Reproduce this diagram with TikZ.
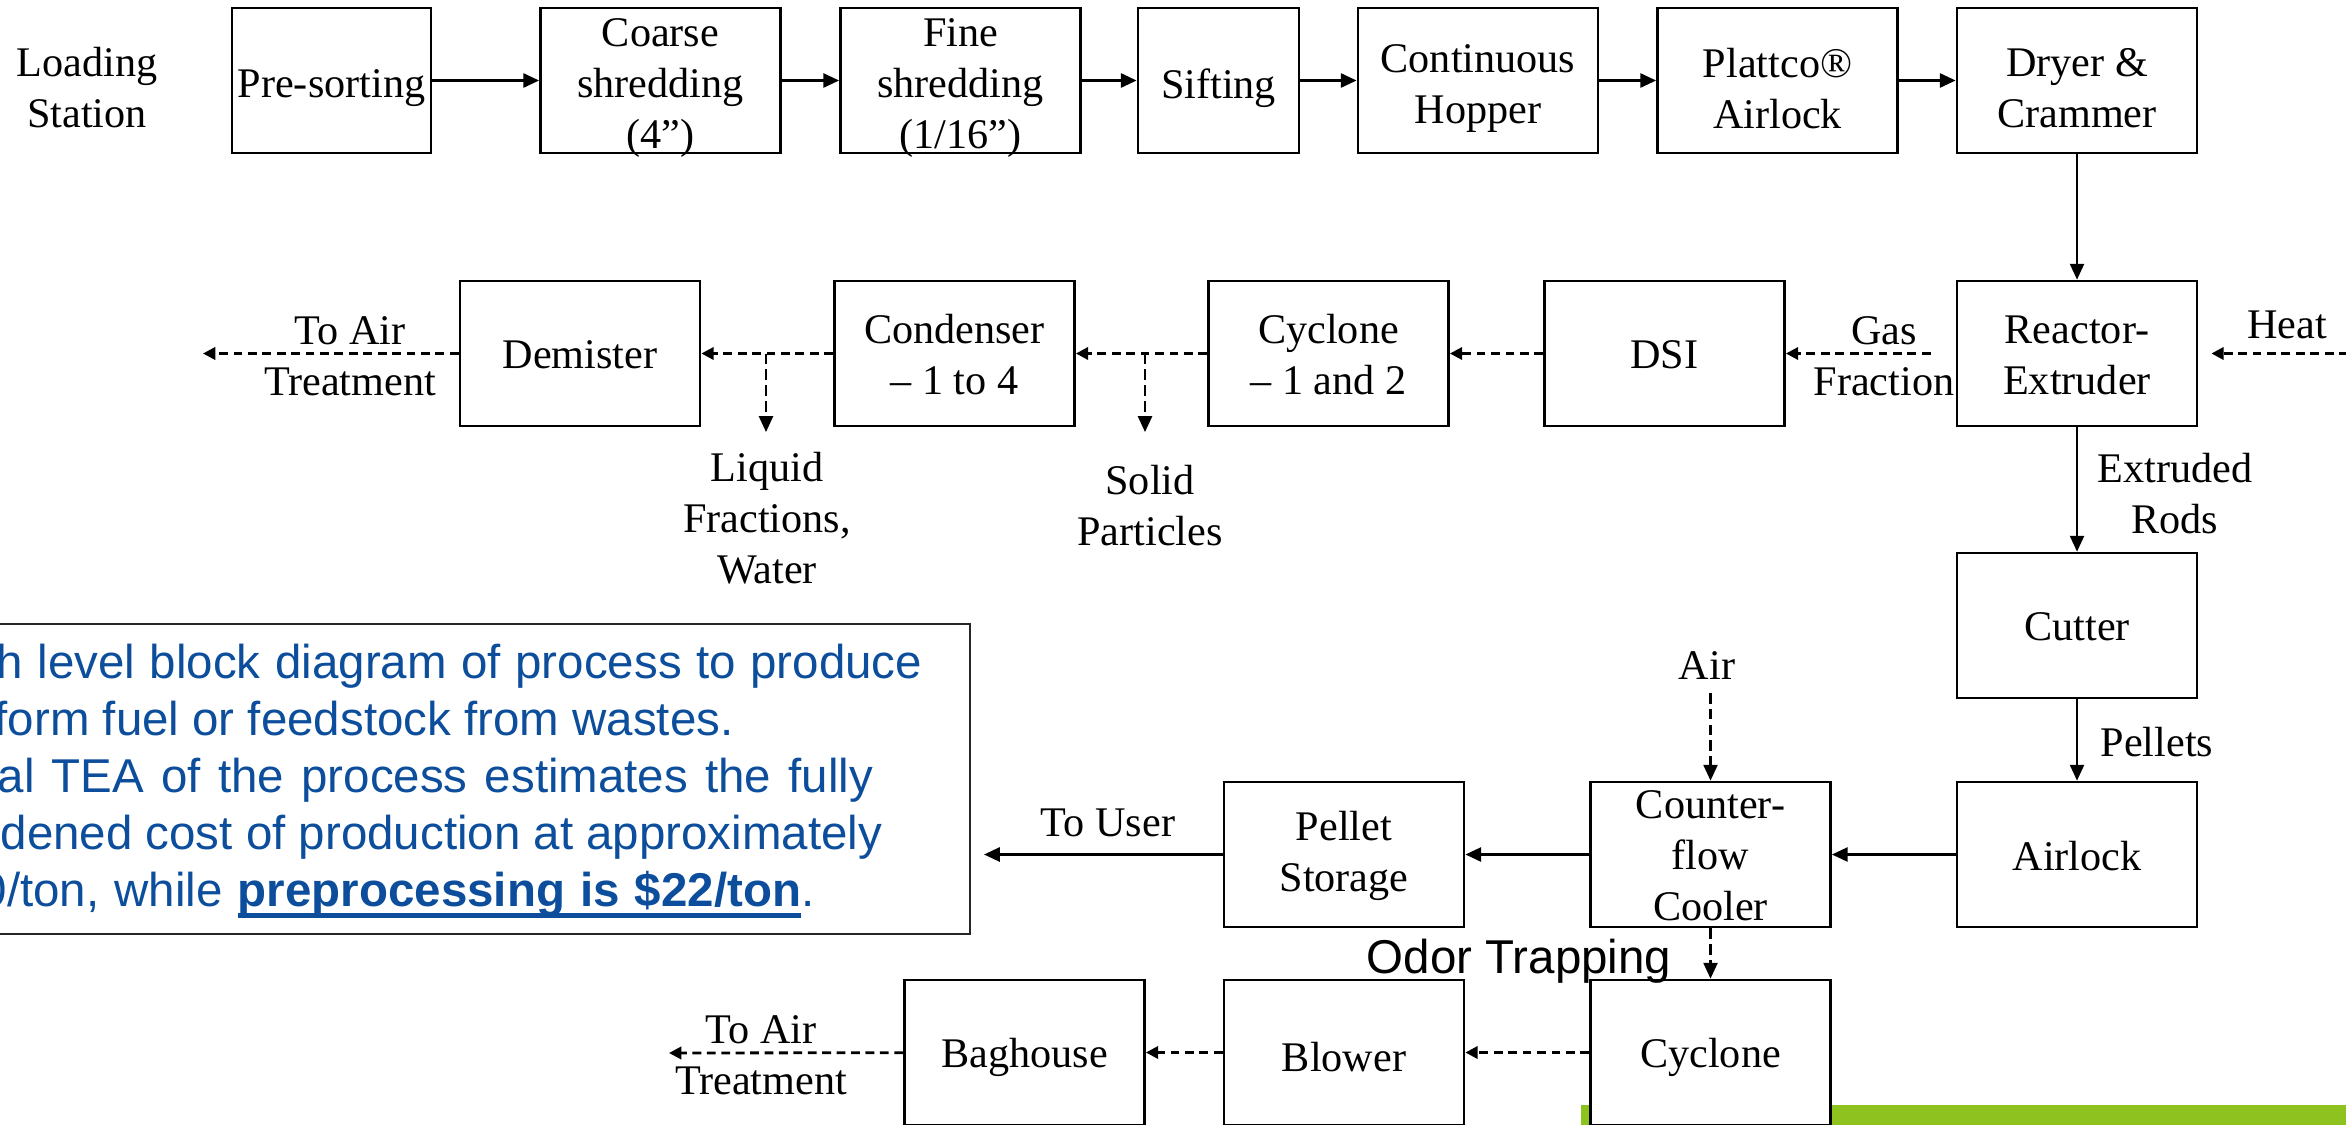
\documentclass[tikz,border=0pt]{standalone}
\usepackage{fontspec}
\setmainfont{Liberation Serif}
\newfontfamily\arialf{Liberation Sans}
\usetikzlibrary{arrows.meta}
\definecolor{txtblue}{RGB}{12,78,156}
\definecolor{limebar}{RGB}{141,194,31}
\newcommand\thickul[1]{\setbox0\hbox{#1}\rlap{\rule[-3.3pt]{\wd0}{1.2pt}}\box0}
\newcommand\tsh{-0.015cm}
\begin{document}
\begin{tikzpicture}[x=0.01cm,y=-0.01cm,
  lbl/.style={inner sep=0pt, align=center, font=\fontsize{12}{14.5}\selectfont},
  blk/.style={draw, line width=0.75pt, fill=white, minimum width=2.4cm, minimum height=1.45cm, inner sep=0pt,
    label={[lbl, yshift=\tsh]center:#1}},
  sarr/.style={line width=0.75pt, -{Triangle[length=4.5pt,width=4pt]}},
  darr/.style={line width=0.8pt, dash pattern=on 2.5pt off 1.6pt, -{Triangle[length=3.5pt,width=3.5pt]}},
  dvarr/.style={line width=0.6pt, dash pattern=on 3pt off 1.5pt, -{Triangle[length=4.5pt,width=4pt]}},
  btxt/.style={anchor=base west, inner sep=0pt, text=txtblue, font=\arialf\fontsize{13.5}{16}\selectfont},
]
\useasboundingbox (0,0) rectangle (2346,1124);
% green bar
\fill[limebar] (1581,1105) rectangle (2400,1200);
% info box
\node[draw=black!85, line width=0.6pt, minimum width=10.21cm, minimum height=3.1cm, anchor=north east, inner sep=0pt] (info) at (971,623) {};
\node[btxt] (t1) at (-4,678) {\spaceskip=4.15pt h level block diagram of process to produce};
\node[btxt] (t2) at (-6,735) {form fuel or feedstock from wastes.};
\node[btxt] (t3) at (-3,792) {\spaceskip=4.9pt al TEA of the process estimates the fully};
\node[btxt] (t4) at (0,849) {dened cost of production at approximately};
\node[btxt] (t5) at (-20,906) {\spaceskip=4.3pt 0/ton, while \thickul{\textbf{preprocessing is \$22/ton}}.};

% top row
\renewcommand\tsh{-0.08cm}
\node[lbl] (load) at (87,88) {Loading\\Station};
\node[blk={Pre-sorting}, minimum width=1.99cm] (pre) at (331.5,80.5) {};
\node[blk={Coarse\\shredding\\(4”)}] (coarse) at (660.5,80.5) {};
\node[blk={Fine\\shredding\\(1/16”)}] (fine) at (960.5,80.5) {};
\node[blk={Sifting}, minimum width=1.61cm] (sift) at (1218.5,80.5) {};
\node[blk={Continuous\\Hopper}] (hop) at (1478,80.5) {};
\node[blk={Plattco®\\Airlock}] (plat) at (1777.5,80.5) {};
\node[blk={Dryer \&\\Crammer}] (dry) at (2077,80.5) {};

% row 2
\renewcommand\tsh{-0.015cm}
\node[blk={Demister}] (demi) at (580,353.5) {};
\node[blk={Condenser\\– 1 to 4}] (cond) at (954.5,353.5) {};
\node[blk={Cyclone\\– 1 and 2}] (cyc12) at (1328.5,353.5) {};
\node[blk={DSI}] (dsi) at (1664.5,353.5) {};
\node[blk={Reactor-\\Extruder}] (reac) at (2077,353.5) {};
\node[blk={Cutter}] (cut) at (2077,625.5) {};

% row 3
\node[blk={Airlock}] (airl) at (2077,854.5) {};
\node[blk={Counter-\\flow\\Cooler}] (cool) at (1710.5,854.5) {};
\node[blk={Pellet\\Storage}] (pst) at (1344,854.5) {};

% row 4
\renewcommand\tsh{-0.05cm}
\node[blk={Baghouse}] (bag) at (1024.5,1052.5) {};
\node[blk={Blower}] (blow) at (1344,1052.5) {};
\node[blk={Cyclone}] (cyc) at (1710.5,1052.5) {};

% top row arrows
\draw[sarr] (pre) -- (coarse);
\draw[sarr] (coarse) -- (fine);
\draw[sarr] (fine) -- (sift);
\draw[sarr] (sift) -- (hop);
\draw[sarr] (hop) -- (plat);
\draw[sarr] (plat) -- (dry);
\draw[sarr, line width=0.6pt] (dry) -- (reac);

% row 2 arrows
\coordinate (heatsrc) at (2420,353.5);
\draw[darr, shorten >=0.13cm] (heatsrc) -- (reac);
\node[lbl] (heat) at (2287,325) {Heat};
\draw[darr, shorten <=0.25cm] (reac) -- (dsi);
\node[lbl] (gas) at (1884,356) {Gas\\Fraction};
\draw[darr] (dsi) -- (cyc12);
\draw[darr] (cyc12) -- (cond);
\draw[darr] (cond) -- (demi);
\coordinate (air1) at (203,353.5);
\draw[darr] (demi) -- (air1);
\node[lbl] (toair1) at (350,356) {To Air\\Treatment};
\coordinate (sp0) at (1145,353.5);
\coordinate (sp1) at (1145,432);
\draw[dvarr] (sp0) -- (sp1);
\node[lbl] (solid) at (1150,506) {Solid\\Particles};
\coordinate (lq0) at (766,353.5);
\coordinate (lq1) at (766,432);
\draw[dvarr] (lq0) -- (lq1);
\node[lbl] (liq) at (767,518) {Liquid\\Fractions,\\Water};

% vertical
\draw[sarr, line width=0.6pt] (reac) -- (cut);
\node[lbl] (rods) at (2175,494) {Extruded\\Rods};
\draw[sarr, line width=0.6pt] (cut) -- (airl);
\node[lbl] (pel) at (2157,742) {Pellets};

% row 3 arrows
\draw[sarr] (airl) -- (cool);
\draw[sarr] (cool) -- (pst);
\coordinate (user) at (984,854.5);
\draw[sarr] (pst) -- (user);
\node[lbl] (touser) at (1108,823) {To User};
\node[lbl] (airlbl) at (1707,666) {Air};
\coordinate (air0) at (1710.5,693);
\draw[dvarr] (air0) -- (cool);

% row 4 arrows
\draw[dvarr] (cool) -- (cyc);
\node[inner sep=0pt, font=\arialf\fontsize{13.5}{16}\selectfont] (odor) at (1519,961) {Odor Trapping};
\draw[darr] (cyc) -- (blow);
\draw[darr] (blow) -- (bag);
\coordinate (air2) at (669,1053);
\draw[darr] (bag) -- (air2);
\node[lbl] (toair2) at (761,1055) {To Air\\Treatment};
\end{tikzpicture}
\end{document}
